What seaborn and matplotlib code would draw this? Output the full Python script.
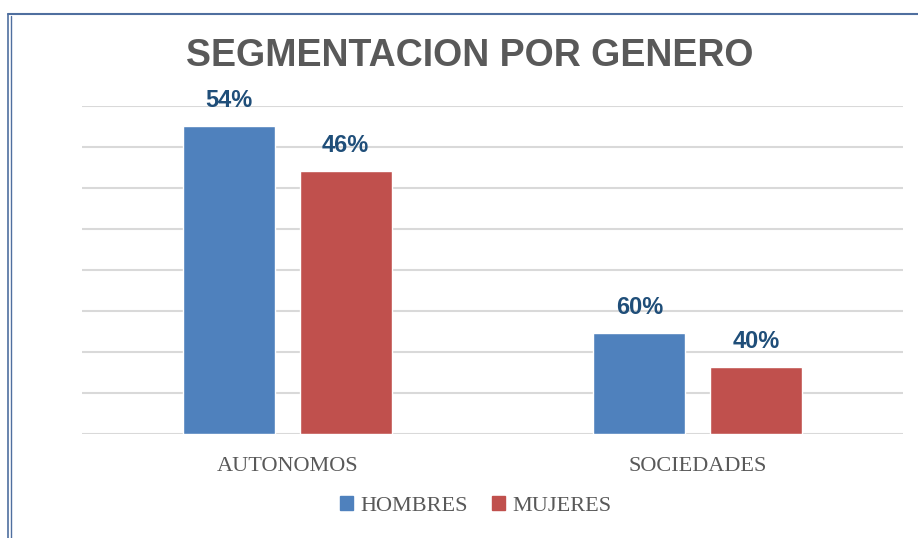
import pandas as pd
import matplotlib.pyplot as plt
import seaborn as sns
from matplotlib.lines import Line2D
from matplotlib.patches import Patch

# Data
categorias = ['AUTONOMOS', 'SOCIEDADES']
hombres = [751, 246]
mujeres = [641, 164]
etiquetas_h = ['54%', '60%']
etiquetas_m = ['46%', '40%']

df = pd.DataFrame({
    'categoria': categorias * 2,
    'genero': ['HOMBRES'] * 2 + ['MUJERES'] * 2,
    'valor': hombres + mujeres,
})

colores = {'HOMBRES': '#4F81BD', 'MUJERES': '#C0504D'}

sns.set_style('white')
plt.rcParams['font.family'] = ['Liberation Sans', 'DejaVu Sans']

fig = plt.figure(figsize=(9.18, 5.38), dpi=100)
ax = fig.add_axes([0.0893, 0.1933, 0.8944, 0.6097])

sns.barplot(data=df, x='categoria', y='valor', hue='genero', palette=colores,
            width=0.57, gap=0.21, ax=ax, legend=False, saturation=1)

ax.set_xlim(-0.5, 1.5)
ax.set_ylim(0, 800)
ax.set_yticks(range(0, 801, 100))
ax.yaxis.grid(True, color='#D9D9D9', linewidth=1.5)
ax.set_axisbelow(True)
ax.tick_params(axis='y', left=False, labelleft=False)
ax.tick_params(axis='x', bottom=False, pad=13)
for lab in ax.get_xticklabels():
    lab.set_fontfamily('Liberation Serif')
    lab.set_fontsize(16)
    lab.set_color('#595959')
ax.set_xlabel('')
ax.set_ylabel('')
sns.despine(ax=ax, left=True, top=True, right=True, bottom=True)

# Data labels
etiquetas = etiquetas_h + etiquetas_m
for bar, txt in zip(ax.patches, etiquetas):
    ax.annotate(txt, (bar.get_x() + bar.get_width() / 2, bar.get_height()),
                xytext=(0, 10), textcoords='offset points', ha='center', va='bottom',
                fontsize=17, fontweight='bold', color='#1F4E79')

# Title
fig.text(0.512, 0.895, 'SEGMENTACION POR GENERO', ha='center', va='center',
         fontsize=27, fontweight='bold', color='#595959')

# Legend
handles = [Patch(color=colores[g]) for g in ['HOMBRES', 'MUJERES']]
fig.legend(handles, ['HOMBRES', 'MUJERES'], loc='center', bbox_to_anchor=(0.518, 0.059),
           ncol=2, frameon=False, handlelength=0.6, handleheight=0.6, handletextpad=0.3,
           columnspacing=1.1, prop={'family': 'Liberation Serif', 'size': 16},
           labelcolor='#595959')

# Chart frame
c = '#4F6F9F'
fig.add_artist(Line2D([8 / 918, 8 / 918], [0, 1 - 14 / 538], color=c, lw=1.2))
fig.add_artist(Line2D([11 / 918, 11 / 918], [0, 1 - 16 / 538], color=c, lw=1.0))
fig.add_artist(Line2D([8 / 918, 1], [1 - 14 / 538, 1 - 14 / 538], color=c, lw=1.5))

plt.savefig('out.png', dpi=100)
